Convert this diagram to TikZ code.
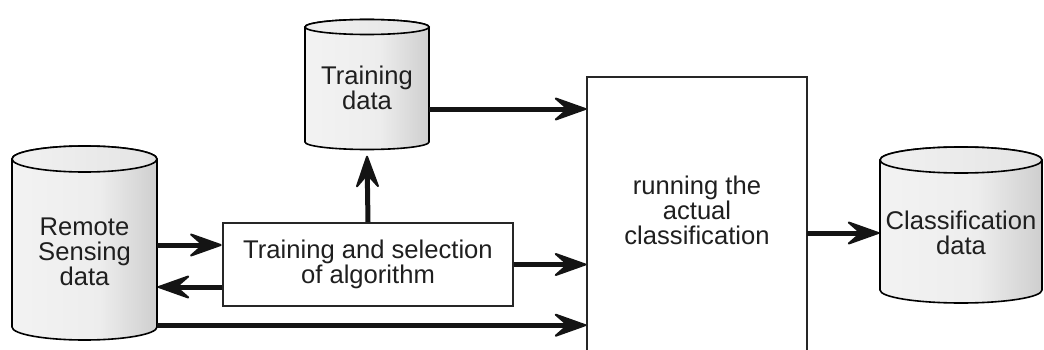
\documentclass[tikz,border=0pt]{standalone}
\usepackage{fontspec}
\setmainfont{Liberation Sans}
\usetikzlibrary{calc,decorations.markings}
\pgfdeclarehorizontalshading{cylsh}{100bp}{color(0bp)=(black!16); color(14bp)=(black!4); color(55bp)=(black!7); color(80bp)=(black!22); color(100bp)=(black!48)}
\pgfdeclarehorizontalshading{topsh}{100bp}{color(0bp)=(black!14); color(30bp)=(black!6); color(70bp)=(black!10); color(100bp)=(black!32)}
\newcommand\mycyl[5]{% cx, ytop, ybot, rx, ry
  \path[draw=black, line width=1.6pt, shading=cylsh]
    (#1-#4,#2) -- (#1-#4,#3)
    arc[start angle=180, end angle=360, x radius=#4, y radius=#5]
    -- (#1+#4,#2)
    arc[start angle=0, end angle=180, x radius=#4, y radius=#5] -- cycle;
  \path[draw=black, line width=1.6pt, shading=topsh] (#1,#2) ellipse[x radius=#4, y radius=#5];
}
\tikzset{
  txt/.style={font=\fontsize{25.6}{25}\selectfont, text=black!88, align=center, inner sep=0pt},
  boxn/.style={txt, draw=black!85, line width=1.8pt, fill=white},
  headmark/.style={decoration={markings, mark=at position 1 with {
      \filldraw[line width=2pt, line join=round, black!92]
        (-1.5pt,0pt) -- (-31pt,10.5pt) -- (-19pt,0pt) -- (-31pt,-10.5pt) -- cycle;}}},
  arr/.style={draw=black!92, line width=5pt, shorten >=16pt,
      postaction={headmark, decorate}},
}
\begin{document}
\begin{tikzpicture}[x=1pt, y=1pt]
\useasboundingbox (0,0) rectangle (1044,349);
% cylinders
\mycyl{84.5}{190}{22}{72.5}{13}
\mycyl{367}{322}{207}{62}{7.5}
\mycyl{961}{189}{59}{81}{13}
% text nodes on cylinders
\node[txt, minimum width=145pt, minimum height=146pt] (rs) at (84.5,97) {Remote\\Sensing\\data};
\node[txt, minimum width=124pt, minimum height=108pt] (td) at (367,261) {Training\\data};
\node[txt, minimum width=162pt, minimum height=114pt] (cl) at (961,116) {Classification\\data};
% boxes
\node[boxn, minimum width=290pt, minimum height=83pt] (tsa) at (368,84.5) {Training and selection\\of algorithm};
\node[txt, minimum width=220pt, minimum height=266pt] (big) at (697,139) {running the\\actual\\classification};
\draw[draw=black!85, line width=1.8pt] ([yshift=-12pt]big.south west) -- (big.north west) -- (big.north east) -- ([yshift=-12pt]big.south east);
% connectors
\coordinate (a1) at ([yshift=19.5pt]tsa.west);
\coordinate (a2) at ([yshift=-22.5pt]tsa.west);
\coordinate (a3) at ([yshift=-21pt]td.east);
\coordinate (a5) at ([yshift=-13pt]td.south);
\draw[arr] (rs.east |- a1) -- (a1);
\draw[arr] (a2) -- (rs.east |- a2);
\draw[arr] (rs.south east) -- (big.west |- rs.south east);
\draw[arr] (tsa.east) -- (big.west |- tsa.east);
\draw[arr] (tsa.north) -- (a5);
\draw[arr] (a3) -- (big.west |- a3);
\draw[arr] (big.east |- cl.west) -- (cl.west);
\end{tikzpicture}
\end{document}
